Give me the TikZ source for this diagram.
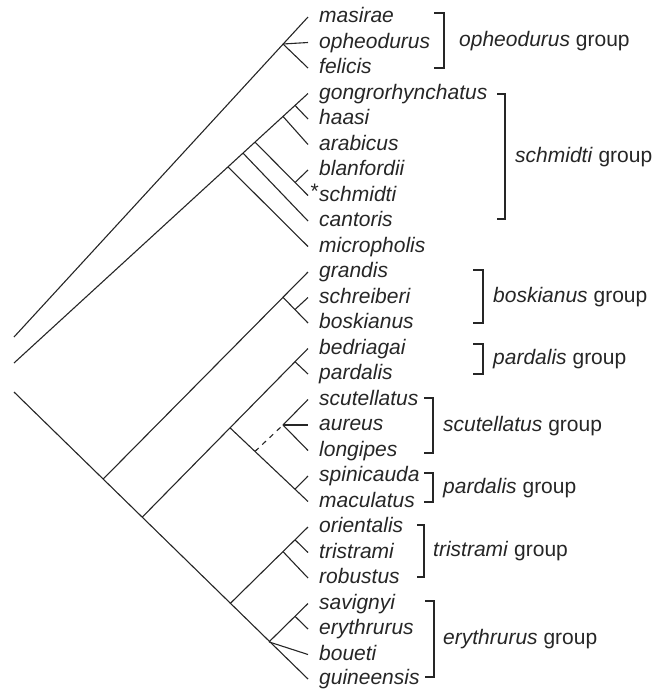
\documentclass[tikz,border=0pt]{standalone}
\usepackage{fontspec}
\setmainfont{Liberation Sans}
\begin{document}
\begin{tikzpicture}[x=1pt,y=-1pt,
  branch/.style={draw=black!85,line width=1.1pt},
  sp/.style={anchor=base west,inner sep=0pt,font=\fontsize{21}{24}\selectfont\itshape,text=black!85},
  grplabel/.style={anchor=base west,inner sep=0pt,font=\fontsize{21}{24}\selectfont,text=black!85},
  brk/.style={draw=black!85,line width=1.1pt}]
\useasboundingbox (0,0) rectangle (656,689);

% tips with their labels
\newcommand\tipat[2]{\coordinate (#1) at (308,#2);
  \node[sp] (lab-#1) at (319,{#2+5.5}) {#1};}
\tipat{masirae}{17}
\tipat{opheodurus}{42.5}
\tipat{felicis}{68}
\tipat{gongrorhynchatus}{93.5}
\tipat{haasi}{119}
\tipat{arabicus}{144.5}
\tipat{blanfordii}{170}
\tipat{schmidti}{195.5}
\tipat{cantoris}{221}
\tipat{micropholis}{246.5}
\tipat{grandis}{272}
\tipat{schreiberi}{297.5}
\tipat{boskianus}{323}
\tipat{bedriagai}{348.5}
\tipat{pardalis}{374}
\tipat{scutellatus}{399.5}
\tipat{aureus}{425}
\tipat{longipes}{450.5}
\tipat{spinicauda}{476}
\tipat{maculatus}{501.5}
\tipat{orientalis}{527}
\tipat{tristrami}{552.5}
\tipat{robustus}{578}
\tipat{savignyi}{603.5}
\tipat{erythrurus}{629}
\tipat{boueti}{654.5}
\tipat{guineensis}{679}

\node[anchor=base east,inner sep=0pt,font=\fontsize{21}{24}\selectfont,text=black!85] (star) at (319,{195.5+3}) {*};

% stems entering from the left edge
\coordinate (r1) at (14,337);
\coordinate (r2) at (14,363);
\coordinate (r3) at (14,392);

% internal nodes
\coordinate (nOph) at (283,44);
\coordinate (nHaa) at (295,105.4);
\coordinate (nAra) at (283,116.4);
\coordinate (nSch) at (255,142.1);
\coordinate (nBla) at (295,182.5);
\coordinate (nCan) at (243,153.1);
\coordinate (nMic) at (228,166.9);
\coordinate (nA) at (103,479.2);
\coordinate (nBos) at (283,297.3);
\coordinate (nSchr) at (295,309.5);
\coordinate (nB) at (142,517.4);
\coordinate (nPar) at (295,361.7);
\coordinate (nSpm) at (230,427.8);
\coordinate (nSpi) at (295,489.2);
\coordinate (nDash) at (255,451.4);
\coordinate (nScu) at (283,425);
\coordinate (nC) at (230,603.7);
\coordinate (nRob) at (283,551.6);
\coordinate (nTri) at (295,539.8);
\coordinate (nD) at (269,641.9);
\coordinate (nEry) at (295,616.3);

% opheodurus clade
\draw[branch] (r1) -- (masirae);
\draw[branch] (nOph) -- (opheodurus);
\draw[branch] (nOph) -- (felicis);

% schmidti clade
\draw[branch] (r2) -- (gongrorhynchatus);
\draw[branch] (nHaa) -- (haasi);
\draw[branch] (nAra) -- (arabicus);
\draw[branch] (nSch) -- (schmidti);
\draw[branch] (nBla) -- (blanfordii);
\draw[branch] (nCan) -- (cantoris);
\draw[branch] (nMic) -- (micropholis);

% remaining clade
\draw[branch] (r3) -- (guineensis);
\draw[branch] (nA) -- (grandis);
\draw[branch] (nBos) -- (boskianus);
\draw[branch] (nSchr) -- (schreiberi);
\draw[branch] (nB) -- (bedriagai);
\draw[branch] (nPar) -- (pardalis);
\draw[branch] (nSpm) -- (maculatus);
\draw[branch] (nSpi) -- (spinicauda);
\draw[branch,dash pattern=on 5pt off 5pt] (nDash) -- (nScu);
\draw[branch] (nScu) -- (scutellatus);
\draw[branch] (nScu) -- (aureus);
\draw[branch] (nScu) -- (longipes);
\draw[branch] (nC) -- (orientalis);
\draw[branch] (nRob) -- (robustus);
\draw[branch] (nTri) -- (tristrami);
\draw[branch] (nD) -- (savignyi);
\draw[branch] (nEry) -- (erythrurus);
\draw[branch] (nD) -- (boueti);

% group brackets: x, top, bottom, tick, label x, label, name
\newcommand\grpbrk[7]{%
  \draw[brk] ({#1-#4},#2) -- (#1,#2) -- (#1,#3) -- ({#1-#4},#3);
  \node[grplabel] (#7) at (#5,{(#2+#3)/2+5.5}) {#6};}
\grpbrk{444}{13}{68}{10}{459}{\textit{opheodurus} group}{gOph}
\grpbrk{505}{94}{219}{8}{515}{\textit{schmidti} group}{gSch}
\grpbrk{483}{270}{323}{10}{493}{\textit{boskianus} group}{gBos}
\grpbrk{483}{344}{374}{10}{493}{\textit{pardalis} group}{gPar}
\grpbrk{433}{398}{453}{9}{443}{\textit{scutellatus} group}{gScu}
\grpbrk{433}{473}{502}{9}{443}{\textit{pardalis} group}{gPar2}
\grpbrk{424}{525}{577}{7}{433}{\textit{tristrami} group}{gTri}
\grpbrk{434}{601}{677}{9}{443}{\textit{erythrurus} group}{gEry}
\end{tikzpicture}
\end{document}
